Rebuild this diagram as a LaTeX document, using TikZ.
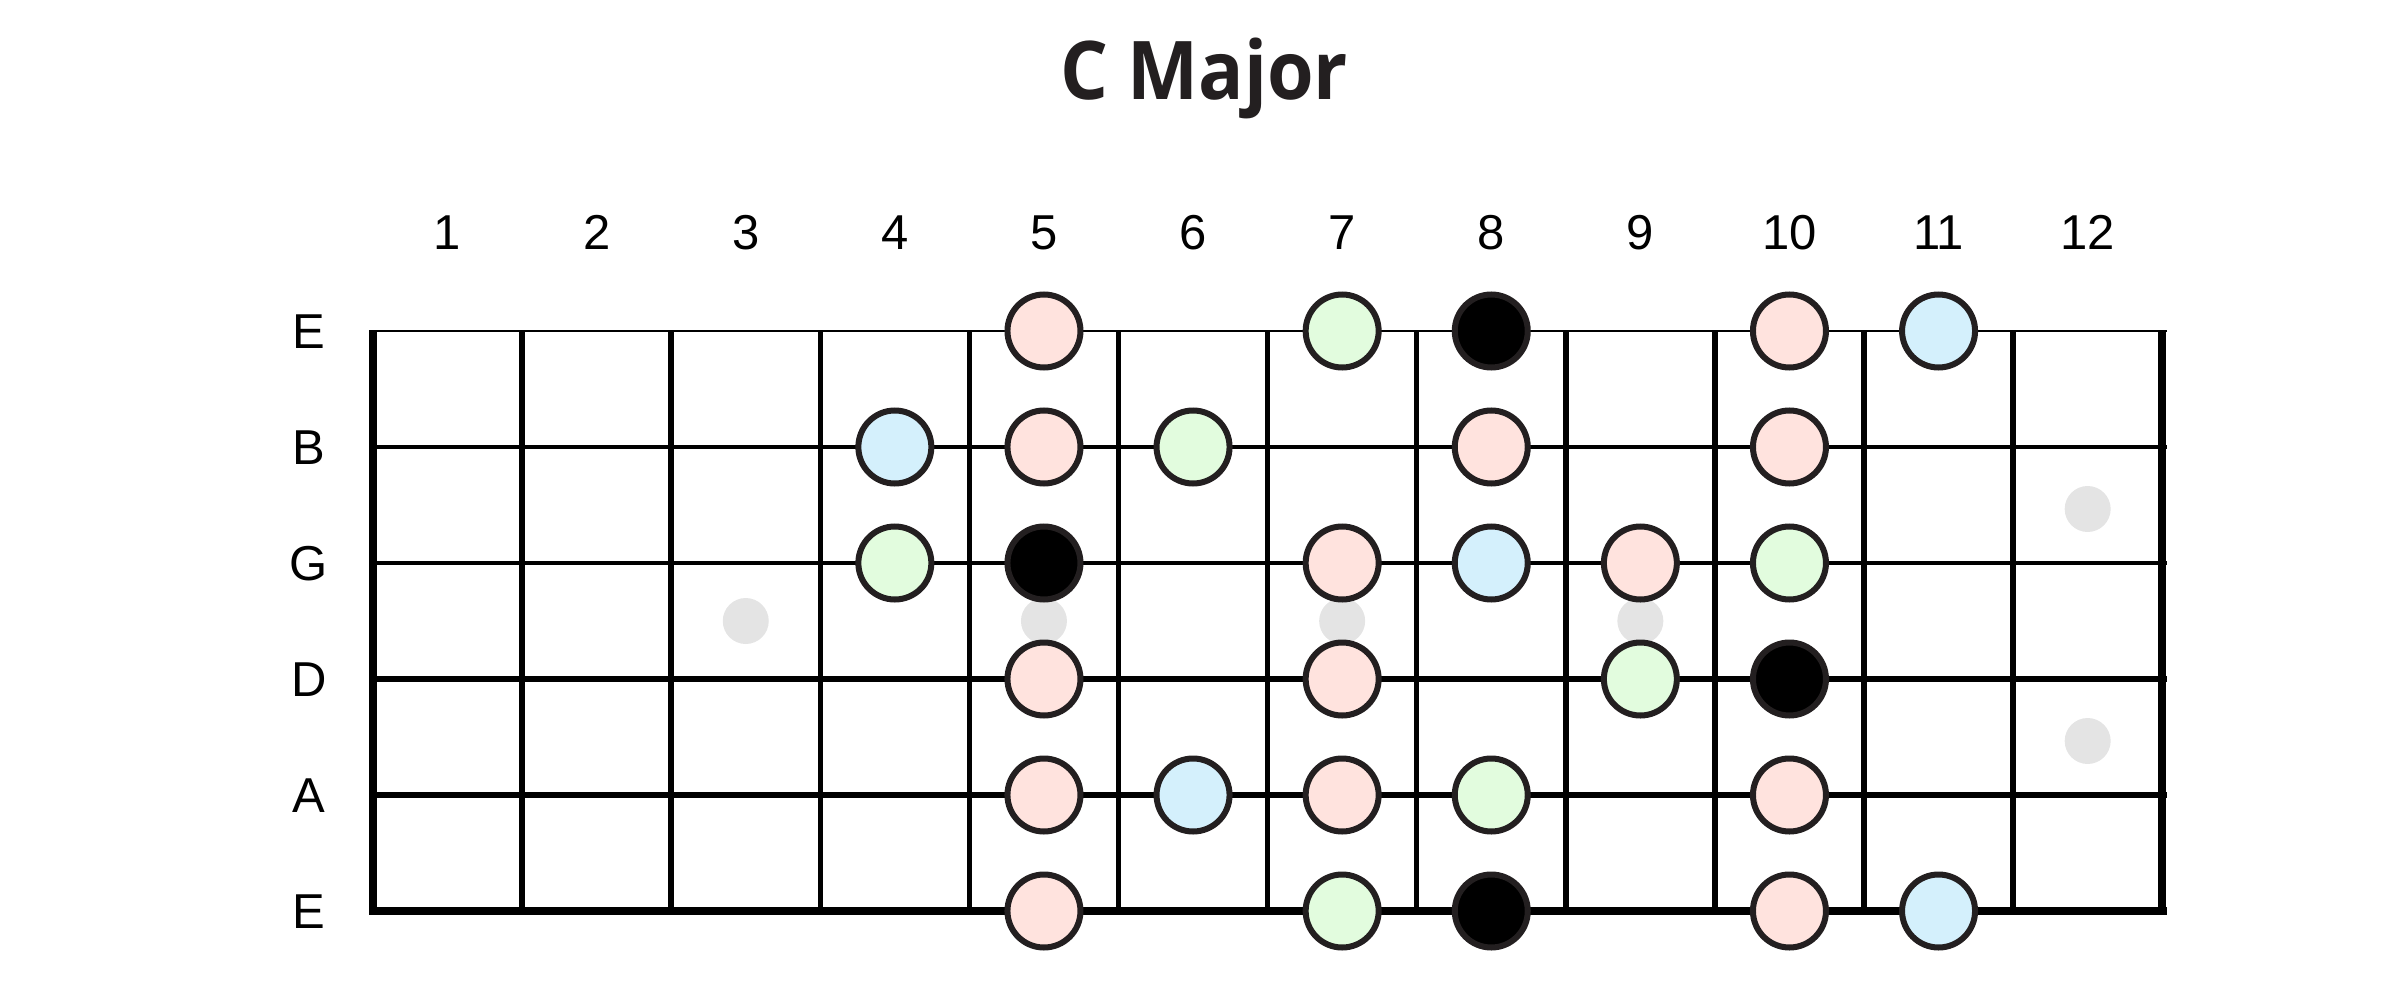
\documentclass[tikz,border=0pt]{standalone}
\usepackage{fontspec}
\setmainfont{Liberation Sans}
\newfontfamily\titlefont{Open Sans}
\definecolor{notepink}{RGB}{255,227,222}
\definecolor{notegreen}{RGB}{226,252,222}
\definecolor{noteblue}{RGB}{212,240,252}
\definecolor{noteblack}{RGB}{0,0,0}
\definecolor{outlinecol}{RGB}{35,31,32}
\definecolor{inlaycol}{RGB}{228,228,228}
\begin{document}
\begin{tikzpicture}[x=1pt,y=-1pt,
  note/.style={circle, draw=outlinecol, line width=6pt, minimum size=73pt, inner sep=0pt},
  inlay/.style={circle, fill=inlaycol, minimum size=46pt, inner sep=0pt},
  lbl/.style={font=\fontsize{49}{55}\selectfont, text=black, anchor=base, inner sep=0pt},
  titlestyle/.style={font=\titlefont\bfseries\fontsize{81}{90}\selectfont, text=outlinecol, anchor=base, inner sep=0pt, xscale=0.93},
  stringline/.style={draw=black, line cap=butt},
  fretline/.style={draw=black, line cap=butt}]
\useasboundingbox (0,0) rectangle (2400,1000);

% title
\node[titlestyle] (title) at (1204,100) {C Major};

% inlays
\foreach \f/\yy [count=\k] in {3/621, 5/621, 7/621, 9/621, 12/509, 12/741} {
  \pgfmathsetmacro{\xx}{373+149.1*(\f-0.5)}
  \node[inlay] (inlay\k) at (\xx,\yy) {};
}

% frets
\foreach \i in {0,...,12} {
  \pgfmathsetmacro{\xx}{373+149.1*\i}
  \coordinate (fT\i) at (\xx,331);
  \coordinate (fB\i) at (\xx,911);
}
\foreach \i in {1,...,11} {
  \draw[fretline, line width=5.5pt] (fT\i) -- (fB\i);
}
\draw[fretline, line width=8.5pt] (fT0) -- (fB0);
\draw[fretline, line width=8pt] (fT12) -- (fB12);

% strings
\foreach \s/\w/\name in {1/2.5/E, 2/4/B, 3/4.5/G, 4/5.5/D, 5/6.5/A, 6/8.5/E} {
  \pgfmathsetmacro{\yy}{331+116*(\s-1)}
  \coordinate (sL\s) at (369,\yy);
  \coordinate (sR\s) at (2167,\yy);
  \draw[stringline, line width=\w pt] (sL\s) -- (sR\s);
  \node[lbl] (slabel\s) at (309,\yy+17.5) {\name};
}

% fret numbers
\foreach \f in {1,...,12} {
  \pgfmathsetmacro{\xx}{373+149.1*(\f-0.5)}
  \node[lbl] (fnum\f) at (\xx,250) {\f};
}

% notes
\foreach \s/\f/\c in {
  1/5/notepink, 1/7/notegreen, 1/8/noteblack, 1/10/notepink, 1/11/noteblue,
  2/4/noteblue, 2/5/notepink, 2/6/notegreen, 2/8/notepink, 2/10/notepink,
  3/4/notegreen, 3/5/noteblack, 3/7/notepink, 3/8/noteblue, 3/9/notepink, 3/10/notegreen,
  4/5/notepink, 4/7/notepink, 4/9/notegreen, 4/10/noteblack,
  5/5/notepink, 5/6/noteblue, 5/7/notepink, 5/8/notegreen, 5/10/notepink,
  6/5/notepink, 6/7/notegreen, 6/8/noteblack, 6/10/notepink, 6/11/noteblue} {
  \pgfmathsetmacro{\xx}{373+149.1*(\f-0.5)}
  \pgfmathsetmacro{\yy}{331+116*(\s-1)}
  \node[note, fill=\c] (n\s-\f) at (\xx,\yy) {};
}
\end{tikzpicture}
\end{document}
